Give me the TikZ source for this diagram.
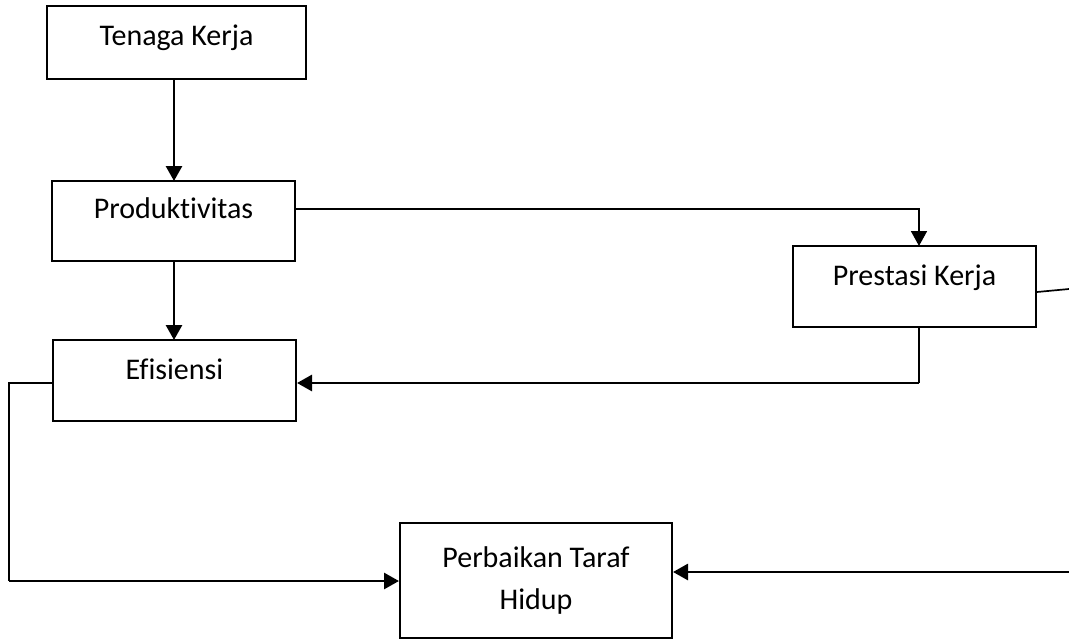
\documentclass[tikz,border=0pt]{standalone}
\usepackage{fontspec}
\setmainfont{Carlito}[Ligatures={NoCommon}]
\usetikzlibrary{arrows.meta}
\begin{document}
\begin{tikzpicture}[x=1pt,y=-1pt,
  box/.style={draw=black, line width=2pt, rectangle, inner sep=0pt,
    font=\fontsize{30}{42}\selectfont},
  oneline/.style={text height=#1, text depth=18pt},
  conn/.style={line width=2.8pt, draw=black},
  thin/.style={line width=1.7pt, draw=black},
  tip/.style={-{Triangle[length=15pt,width=16pt]}}]
\useasboundingbox (0,0) rectangle (1069,640);
\fill[white] (0,0) rectangle (1069,640);
\node[box, oneline=23pt, minimum width=259pt, minimum height=73pt] (tk) at (176.5,42.5) {Tenaga Kerja};
\node[box, oneline=12pt, minimum width=243pt, minimum height=80pt] (pr) at (173.5,221) {Produktivitas};
\node[box, oneline=15pt, minimum width=243pt, minimum height=81pt] (ef) at (174.5,380.5) {Efisiensi};
\node[box, oneline=15pt, minimum width=243pt, minimum height=81pt] (ps) at (914.5,286.5) {Prestasi Kerja};
\node[box, minimum width=272pt, minimum height=115pt, align=center] (ph) at (536,580.5) {Perbaikan Taraf\\Hidup};
\coordinate (r1) at (1069,289);
\coordinate (r2) at (1069,572);
\coordinate (lc) at (9,383);
% connectors
\draw[conn, tip] (tk.south -| 174,0) -- (174,181);
\draw[conn, tip] (174,261) -- (174,340);
\draw[thin, tip] (pr.east |- 0,209) -- (919,209) -- (919,246);
\draw[thin] (919,327) -- (919,383);
\draw[conn, tip] (919,383) -- (ef.east |- 0,383);
\draw[thin] (ps.east |- 0,292) -- (r1);
\draw[conn] (ef.west |- 0,383) -- (lc) -- (9,581);
\draw[conn, tip] (9,581) -- (ph.west |- 0,581);
\draw[conn, tip] (r2) -- (ph.east |- 0,572);
\end{tikzpicture}
\end{document}
